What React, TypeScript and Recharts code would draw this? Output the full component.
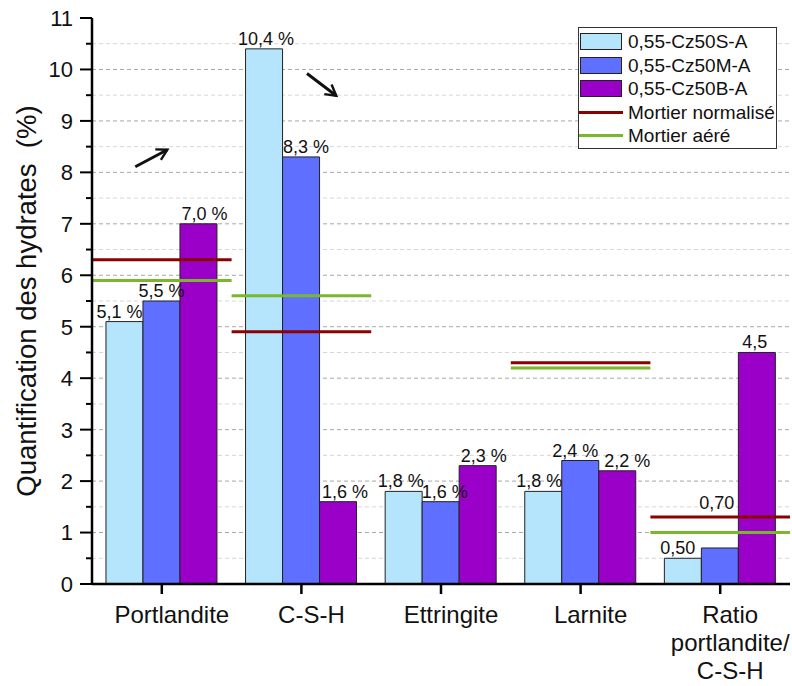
import {
  ComposedChart,
  Bar,
  XAxis,
  YAxis,
  CartesianGrid,
  ReferenceLine,
  LabelList,
  Legend,
  Customized,
} from 'recharts';

const FONT = 'Arial, "Liberation Sans", sans-serif';

// categories (tick labels split on lines)
const categories = ['Portlandite', 'C-S-H', 'Ettringite', 'Larnite', 'Ratio portlandite/C-S-H'];
const categoryLines = [['Portlandite'], ['C-S-H'], ['Ettringite'], ['Larnite'], ['Ratio', 'portlandite/', 'C-S-H']];
// band centres on the helper numeric axis (band i spans i..i+1)
const bandCentres = [0.5, 1.5, 2.5, 3.5, 4.5];

// bar series
const cz50S = [5.1, 10.4, 1.8, 1.8, 0.5];
const cz50M = [5.5, 8.3, 1.6, 2.4, 0.7];
const cz50B = [7.0, 1.6, 2.3, 2.2, 4.5];

const labelsS = ['5,1 %', '10,4 %', '1,8 %', '1,8 %', '0,50'];
const labelsM = ['5,5 %', '8,3 %', '1,6 %', '2,4 %', '0,70'];
const labelsB = ['7,0 %', '1,6 %', '2,3 %', '2,2 %', '4,5'];

// reference mortars (one segment per category, null = none)
const mortierNormalise = [6.3, 4.9, null, 4.3, 1.3];
const mortierAere = [5.9, 5.6, null, 4.2, 1.0];

// axis ticks
const yTicks = [0, 0.5, 1, 1.5, 2, 2.5, 3, 3.5, 4, 4.5, 5, 5.5, 6, 6.5, 7, 7.5, 8, 8.5, 9, 9.5, 10, 10.5, 11];
const yMajorGrid = [1, 2, 3, 4, 5, 6, 7, 8, 9, 10];
const yMinorGrid = [0.5, 1.5, 2.5, 3.5, 4.5, 5.5, 6.5, 7.5, 8.5, 9.5, 10.5];
const bandEdges = [0, 1, 2, 3, 4, 5];
const bandInner = [1, 2, 3, 4];

// annotation arrows (band units, y units)
const arrows = [
  [{ x: 0.31, y: 8.11 }, { x: 0.54, y: 8.44 }],
  [{ x: 1.54, y: 9.92 }, { x: 1.75, y: 9.49 }],
];

const data = categories.map((name, i) => ({ name, pos: bandCentres[i], s: cz50S[i], m: cz50M[i], b: cz50B[i] }));

const COLORS = { s: '#b5e5fd', m: '#5f6fff', b: '#9b00c8', norm: '#8b0000', aere: '#78b82a' };

const legendItems = [
  { name: '0,55-Cz50S-A', color: COLORS.s, kind: 'bar' },
  { name: '0,55-Cz50M-A', color: COLORS.m, kind: 'bar' },
  { name: '0,55-Cz50B-A', color: COLORS.b, kind: 'bar' },
  { name: 'Mortier normalisé', color: COLORS.norm, kind: 'line' },
  { name: 'Mortier aéré', color: COLORS.aere, kind: 'line' },
];

// small label shifts to mimic the original placement
const nudgeS: Record<number, [number, number]> = { 0: [-5, 0], 1: [2, 0], 2: [-3, 0], 3: [-4, 0], 4: [-5, 0] };
const nudgeM: Record<number, [number, number]> = { 1: [5, 0], 2: [4, 0], 3: [-5, 0], 4: [-3, -35] };
const nudgeB: Record<number, [number, number]> = { 0: [6, 0], 1: [7, 0], 2: [6, 0], 3: [10, 0], 4: [-2, 0] };

const barLabel = (labels: string[], nudge: Record<number, [number, number]>) => (props: any) => {
  const { x, y, width, index } = props;
  const [dx, dy] = nudge[index] ?? [0, 0];
  return (
    <text x={x + width / 2 + dx} y={y - 4 + dy} textAnchor="middle" fontSize={18} fill="#111" fontFamily={FONT}>
      {labels[index]}
    </text>
  );
};

function YTick(props: any) {
  const { x, y, payload } = props;
  const major = Number.isInteger(payload.value);
  return (
    <g>
      <line x1={x - (major ? 12 : 6)} x2={x} y1={y} y2={y} stroke="#000" strokeWidth={2} />
      {major && (
        <text x={x - 19} y={y} dy="0.36em" textAnchor="end" fontSize={22} fill="#111" fontFamily={FONT}>
          {payload.value}
        </text>
      )}
    </g>
  );
}

function XTick(props: any) {
  const { x, y, index } = props;
  const lines = categoryLines[index] ?? [];
  const tx = x + 10;
  return (
    <text x={tx} y={y} textAnchor="middle" fontSize={24} fill="#111" fontFamily={FONT}>
      {lines.map((l, i) => (
        <tspan key={i} x={tx} dy={i === 0 ? '0.71em' : 28}>
          {l}
        </tspan>
      ))}
    </text>
  );
}

function YTitle(props: any) {
  const { viewBox } = props;
  const cx = viewBox.x + 26;
  const cy = viewBox.y + viewBox.height / 2;
  return (
    <text
      x={cx}
      y={cy}
      transform={`rotate(-90 ${cx} ${cy})`}
      textAnchor="middle"
      dominantBaseline="central"
      fontSize={27.5}
      fill="#111"
      fontFamily={FONT}
    >
      {'Quantification des hydrates\u00a0 (%)'}
    </text>
  );
}

function LegendBox() {
  return (
    <div
      style={{
        border: '1px solid #333',
        background: '#fff',
        width: 197,
        padding: '2px 0 0',
        fontFamily: FONT,
        fontSize: 19,
        color: '#111',
        lineHeight: 1,
        textAlign: 'left',
      }}
    >
      {legendItems.map(item => (
        <div key={item.name} style={{ display: 'flex', alignItems: 'center', height: 23.5, whiteSpace: 'nowrap' }}>
          {item.kind === 'bar' ? (
            <div
              style={{
                width: 40,
                height: 15,
                background: item.color,
                border: '1.5px solid #222',
                margin: '0 6px 0 1px',
                flexShrink: 0,
              }}
            />
          ) : (
            <div style={{ width: 44, height: 0, borderTop: `3px solid ${item.color}`, margin: '0 5px 0 0', flexShrink: 0 }} />
          )}
          <span>{item.name}</span>
        </div>
      ))}
    </div>
  );
}

function ArrowDefs() {
  return (
    <defs>
      <marker id="arrowHead" viewBox="0 0 10 10" refX="8" refY="5" markerWidth="5" markerHeight="5" orient="auto">
        <path d="M1,1 L8,5 L1,9" fill="none" stroke="#111" strokeWidth={1.6} />
      </marker>
    </defs>
  );
}

export default function App() {
  return (
    <div style={{ position: 'absolute', left: 0, top: 0, background: '#fff' }}>
      <ComposedChart
        width={792}
        height={686}
        data={data}
        margin={{ top: 18, right: 2, left: 0, bottom: 0 }}
        barCategoryGap="10%"
        barGap={0}
      >
        <Customized component={<ArrowDefs />} />
        <XAxis
          xAxisId="num"
          dataKey="pos"
          type="number"
          domain={[0, 5]}
          ticks={bandEdges}
          height={0}
          axisLine={false}
          tick={false}
          tickLine={{ stroke: '#000', strokeWidth: 1.5 }}
          tickSize={5}
          allowDataOverflow
        />
        <XAxis
          xAxisId="cat"
          dataKey="name"
          type="category"
          height={102}
          interval={0}
          tickSize={10}
          tickMargin={12}
          tickLine={{ stroke: '#000', strokeWidth: 2.5 }}
          axisLine={{ stroke: '#000', strokeWidth: 2.5 }}
          tick={<XTick />}
        />
        <XAxis
          xAxisId="top"
          dataKey="pos"
          orientation="top"
          type="number"
          domain={[0, 5]}
          height={0}
          tick={false}
          tickLine={false}
          axisLine={{ stroke: '#000', strokeWidth: 2.5 }}
          allowDataOverflow
        />
        <YAxis
          yAxisId="y"
          domain={[0, 11]}
          ticks={yTicks}
          interval={0}
          width={92}
          tickSize={0}
          tickMargin={0}
          tickLine={false}
          axisLine={{ stroke: '#000', strokeWidth: 2.5 }}
          tick={<YTick />}
          label={{ content: <YTitle /> }}
          allowDataOverflow
        />
        <YAxis
          yAxisId="right"
          orientation="right"
          domain={[0, 11]}
          width={0}
          tick={false}
          tickLine={false}
          axisLine={{ stroke: '#000', strokeWidth: 2.5 }}
        />

        <CartesianGrid xAxisId="num" yAxisId="y" vertical={false} horizontalValues={yMinorGrid} stroke="#d6d6d6" strokeDasharray="4 3" />
        <CartesianGrid xAxisId="num" yAxisId="y" vertical={false} horizontalValues={yMajorGrid} stroke="#a8a8a8" strokeDasharray="4 3" />
        <CartesianGrid xAxisId="num" yAxisId="y" horizontal={false} verticalValues={bandInner} stroke="#d0d0d0" />

        <Legend
          content={<LegendBox />}
          layout="horizontal"
          verticalAlign="middle"
          align="center"
          wrapperStyle={{ left: 578, top: 27, width: 199 }}
        />

        <Bar xAxisId="cat" yAxisId="y" dataKey="s" name="0,55-Cz50S-A" fill={COLORS.s} stroke="#222" strokeWidth={1} isAnimationActive={false}>
          <LabelList dataKey="s" content={barLabel(labelsS, nudgeS)} />
        </Bar>
        <Bar xAxisId="cat" yAxisId="y" dataKey="m" name="0,55-Cz50M-A" fill={COLORS.m} stroke="#222" strokeWidth={1} isAnimationActive={false}>
          <LabelList dataKey="m" content={barLabel(labelsM, nudgeM)} />
        </Bar>
        <Bar xAxisId="cat" yAxisId="y" dataKey="b" name="0,55-Cz50B-A" fill={COLORS.b} stroke="#222" strokeWidth={1} isAnimationActive={false}>
          <LabelList dataKey="b" content={barLabel(labelsB, nudgeB)} />
        </Bar>

        {mortierNormalise.map((v, i) =>
          v == null ? null : (
            <ReferenceLine
              key={`n${i}`}
              xAxisId="num"
              yAxisId="y"
              segment={[{ x: bandEdges[i], y: v }, { x: bandEdges[i + 1], y: v }]}
              stroke={COLORS.norm}
              strokeWidth={3}
              ifOverflow="visible"
            />
          )
        )}
        {mortierAere.map((v, i) =>
          v == null ? null : (
            <ReferenceLine
              key={`a${i}`}
              xAxisId="num"
              yAxisId="y"
              segment={[{ x: bandEdges[i], y: v }, { x: bandEdges[i + 1], y: v }]}
              stroke={COLORS.aere}
              strokeWidth={3}
              ifOverflow="visible"
            />
          )
        )}
        {arrows.map((seg, i) => (
          <ReferenceLine
            key={`arr${i}`}
            xAxisId="num"
            yAxisId="y"
            segment={seg}
            stroke="#111"
            strokeWidth={3}
            markerEnd="url(#arrowHead)"
          />
        ))}
      </ComposedChart>
    </div>
  );
}
